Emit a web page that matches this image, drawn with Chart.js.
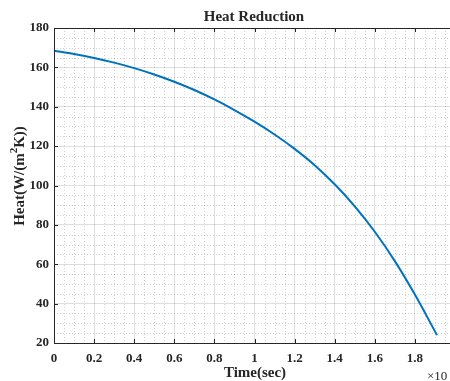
<!DOCTYPE html>
<html>
<head>
<meta charset="utf-8">
<script src="https://cdn.jsdelivr.net/npm/chart.js@4"></script>
<style>
  html, body { margin: 0; padding: 0; background: #fff; }
  #wrap { width: 450px; height: 381px; }
</style>
</head>
<body>
<div id="wrap"><canvas id="heatChart" width="450" height="381"></canvas></div>
<script>
// time in units of 10^4 sec, heat in W/(m^2 K)
const timeVals = [0, 0.1, 0.2, 0.3, 0.4, 0.5, 0.6, 0.7, 0.8, 0.9, 1.0, 1.1, 1.2, 1.3, 1.4, 1.5, 1.6, 1.7, 1.8, 1.9, 1.91];
const heatVals = [168.5, 166.8, 164.8, 162.4, 159.6, 156.4, 152.7, 148.5, 143.7, 138.3, 132.4, 125.9, 118.6, 110.3, 100.6, 89.4, 76.5, 61.6, 44.6, 25.9, 24.0];

const xTicks = [0, 0.2, 0.4, 0.6, 0.8, 1, 1.2, 1.4, 1.6, 1.8];
const yTicks = [20, 40, 60, 80, 100, 120, 140, 160, 180];
const xMinor = [];
for (let i = 0; i <= 40; i++) xMinor.push(i * 0.05);
const yMinor = [];
for (let v = 20; v <= 180; v += 5) yMinor.push(v);

const SERIF = "'Liberation Serif', 'DejaVu Serif', serif";
const AXIS_COLOR = "#262626";

// minor dotted grid + inward ticks + box + texts, matlab style
const matlabLook = {
    id: "matlabLook",
    beforeDatasetsDraw(chart) {
        const { ctx, chartArea: a, scales: { x, y } } = chart;
        ctx.save();
        ctx.strokeStyle = "rgba(0,0,0,0.18)";
        ctx.lineWidth = 1;
        ctx.setLineDash([1, 2]);
        xMinor.forEach(v => {
            if (xTicks.some(t => Math.abs(t - v) < 1e-6)) return;
            const px = Math.round(x.getPixelForValue(v)) + 0.5;
            if (px > a.right) return;
            ctx.beginPath(); ctx.moveTo(px, a.top); ctx.lineTo(px, a.bottom); ctx.stroke();
        });
        yMinor.forEach(v => {
            if (yTicks.includes(v)) return;
            const py = Math.round(y.getPixelForValue(v)) + 0.5;
            ctx.beginPath(); ctx.moveTo(a.left, py); ctx.lineTo(a.right, py); ctx.stroke();
        });
        ctx.restore();
    },
    afterDraw(chart) {
        const { ctx, chartArea: a, scales: { x, y } } = chart;
        ctx.save();
        ctx.strokeStyle = AXIS_COLOR;
        ctx.lineWidth = 1;
        ctx.setLineDash([]);
        // box
        ctx.beginPath();
        ctx.moveTo(a.left + 0.5, a.bottom + 0.5);
        ctx.lineTo(a.left + 0.5, a.top + 0.5);
        ctx.lineTo(a.right, a.top + 0.5);
        ctx.moveTo(a.left + 0.5, a.bottom + 0.5);
        ctx.lineTo(a.right, a.bottom + 0.5);
        ctx.stroke();
        // inward ticks
        xTicks.forEach(v => {
            const px = Math.round(x.getPixelForValue(v)) + 0.5;
            ctx.beginPath();
            ctx.moveTo(px, a.bottom); ctx.lineTo(px, a.bottom - 4);
            ctx.moveTo(px, a.top); ctx.lineTo(px, a.top + 4);
            ctx.stroke();
        });
        yTicks.forEach(v => {
            const py = Math.round(y.getPixelForValue(v)) + 0.5;
            ctx.beginPath();
            ctx.moveTo(a.left, py); ctx.lineTo(a.left + 4, py);
            ctx.stroke();
        });

        ctx.fillStyle = AXIS_COLOR;
        const cx = (a.left + a.right) / 2 + 2;
        // title
        ctx.font = "bold 15px " + SERIF;
        ctx.textAlign = "center";
        ctx.textBaseline = "alphabetic";
        ctx.fillText("Heat Reduction", cx, 21);
        // x label
        ctx.fillText("Time(sec)", cx + 1, 377);
        // exponent
        ctx.font = "13px " + SERIF;
        ctx.textAlign = "left";
        ctx.fillText("\u00d710", 427, 380);

        // y label with superscript
        ctx.translate(19, 176);
        ctx.rotate(-Math.PI / 2);
        const p1 = "Heat(W/(m", p3 = "K))";
        ctx.font = "bold 15px " + SERIF;
        const w1 = ctx.measureText(p1).width, w3 = ctx.measureText(p3).width;
        ctx.font = "bold 11px " + SERIF;
        const w2 = ctx.measureText("2").width;
        let sx = -(w1 + w2 + w3) / 2;
        ctx.font = "bold 15px " + SERIF;
        ctx.fillText(p1, sx, 5);
        ctx.font = "bold 11px " + SERIF;
        ctx.fillText("2", sx + w1, -2);
        ctx.font = "bold 15px " + SERIF;
        ctx.fillText(p3, sx + w1 + w2, 5);
        ctx.restore();
    }
};

new Chart(document.getElementById("heatChart").getContext("2d"), {
    type: "line",
    data: {
        datasets: [{
            data: timeVals.map((t, i) => ({ x: t, y: heatVals[i] })),
            borderColor: "#0072BD",
            borderWidth: 2,
            pointRadius: 0,
            cubicInterpolationMode: "monotone",
            fill: false
        }]
    },
    options: {
        responsive: false,
        animation: false,
        layout: { padding: { top: 28, right: 0, bottom: 0, left: 0 } },
        plugins: { legend: { display: false }, title: { display: false }, tooltip: { enabled: false } },
        scales: {
            x: {
                type: "linear",
                min: 0,
                max: 1.975,
                afterBuildTicks: s => { s.ticks = xTicks.map(v => ({ value: v })); },
                afterFit: s => { s.height = 38; },
                grid: { color: "rgba(0,0,0,0.13)", drawTicks: false },
                border: { display: false },
                ticks: {
                    padding: 8,
                    maxRotation: 0,
                    color: AXIS_COLOR,
                    font: { family: SERIF, size: 13, weight: "bold" },
                    callback: v => String(+v.toFixed(1))
                }
            },
            y: {
                min: 20,
                max: 180,
                afterBuildTicks: s => { s.ticks = yTicks.map(v => ({ value: v })); },
                afterFit: s => { s.width = 54; },
                grid: { color: "rgba(0,0,0,0.13)", drawTicks: false },
                border: { display: false },
                ticks: {
                    padding: 5,
                    color: AXIS_COLOR,
                    font: { family: SERIF, size: 13, weight: "bold" }
                }
            }
        }
    },
    plugins: [matlabLook]
});
</script>
</body>
</html>
